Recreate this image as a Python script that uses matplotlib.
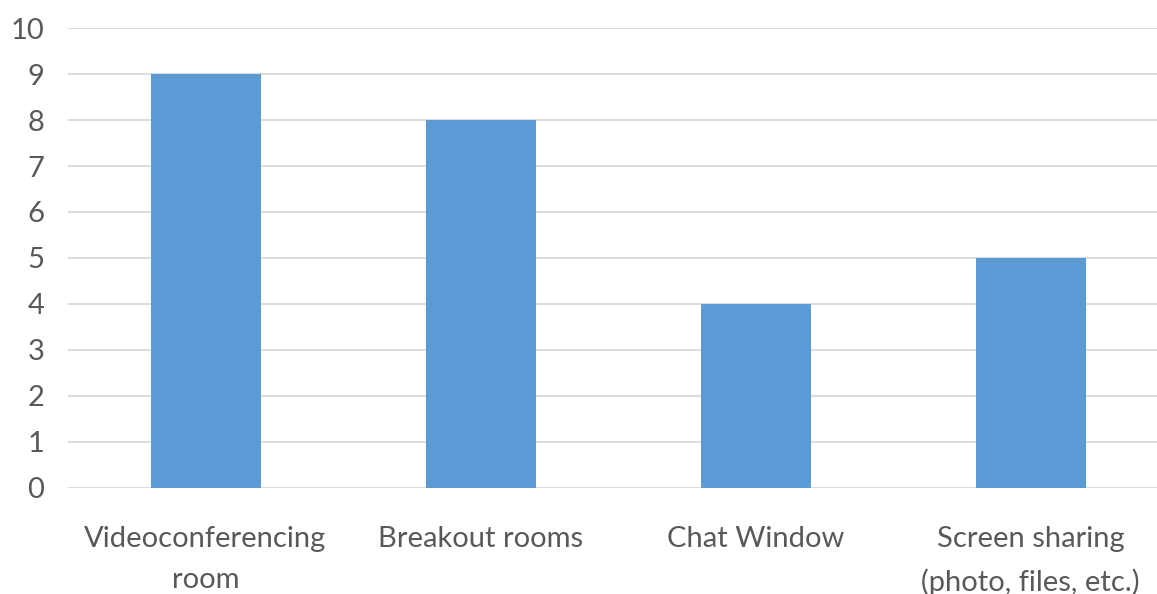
import matplotlib.pyplot as plt

categories = ["Videoconferencing\nroom", "Breakout rooms", "Chat Window",
              "Screen sharing\n(photo, files, etc.)"]
values = [9, 8, 4, 5]
yticks = list(range(0, 11))

plt.rcParams['font.family'] = ['Lato', 'DejaVu Sans']

W, H = 1157, 594
fig = plt.figure(figsize=(W / 100, H / 100), dpi=100)
ax = fig.add_axes([68 / W, (H - 487.5) / H, (W - 68) / W, (487.5 - 28.3) / H])

x = range(len(categories))
ax.bar(x, values, width=0.4, color="#5b9bd5", zorder=3)

ax.set_ylim(0, 10)
ax.set_xlim(-0.5, 3.5 - 11 / 275)
ax.set_yticks(yticks)
ax.set_xticks(list(x))
ax.set_xticklabels(categories, linespacing=1.7)
ax.grid(axis="y", color="#d9d9d9", linewidth=1.3, zorder=0)
for s in ax.spines.values():
    s.set_visible(False)
ax.tick_params(length=0, labelsize=21, labelcolor="#595959")
ax.tick_params(axis="y", pad=17)
ax.tick_params(axis="x", pad=28)

fig.savefig("out.png", dpi=100)
